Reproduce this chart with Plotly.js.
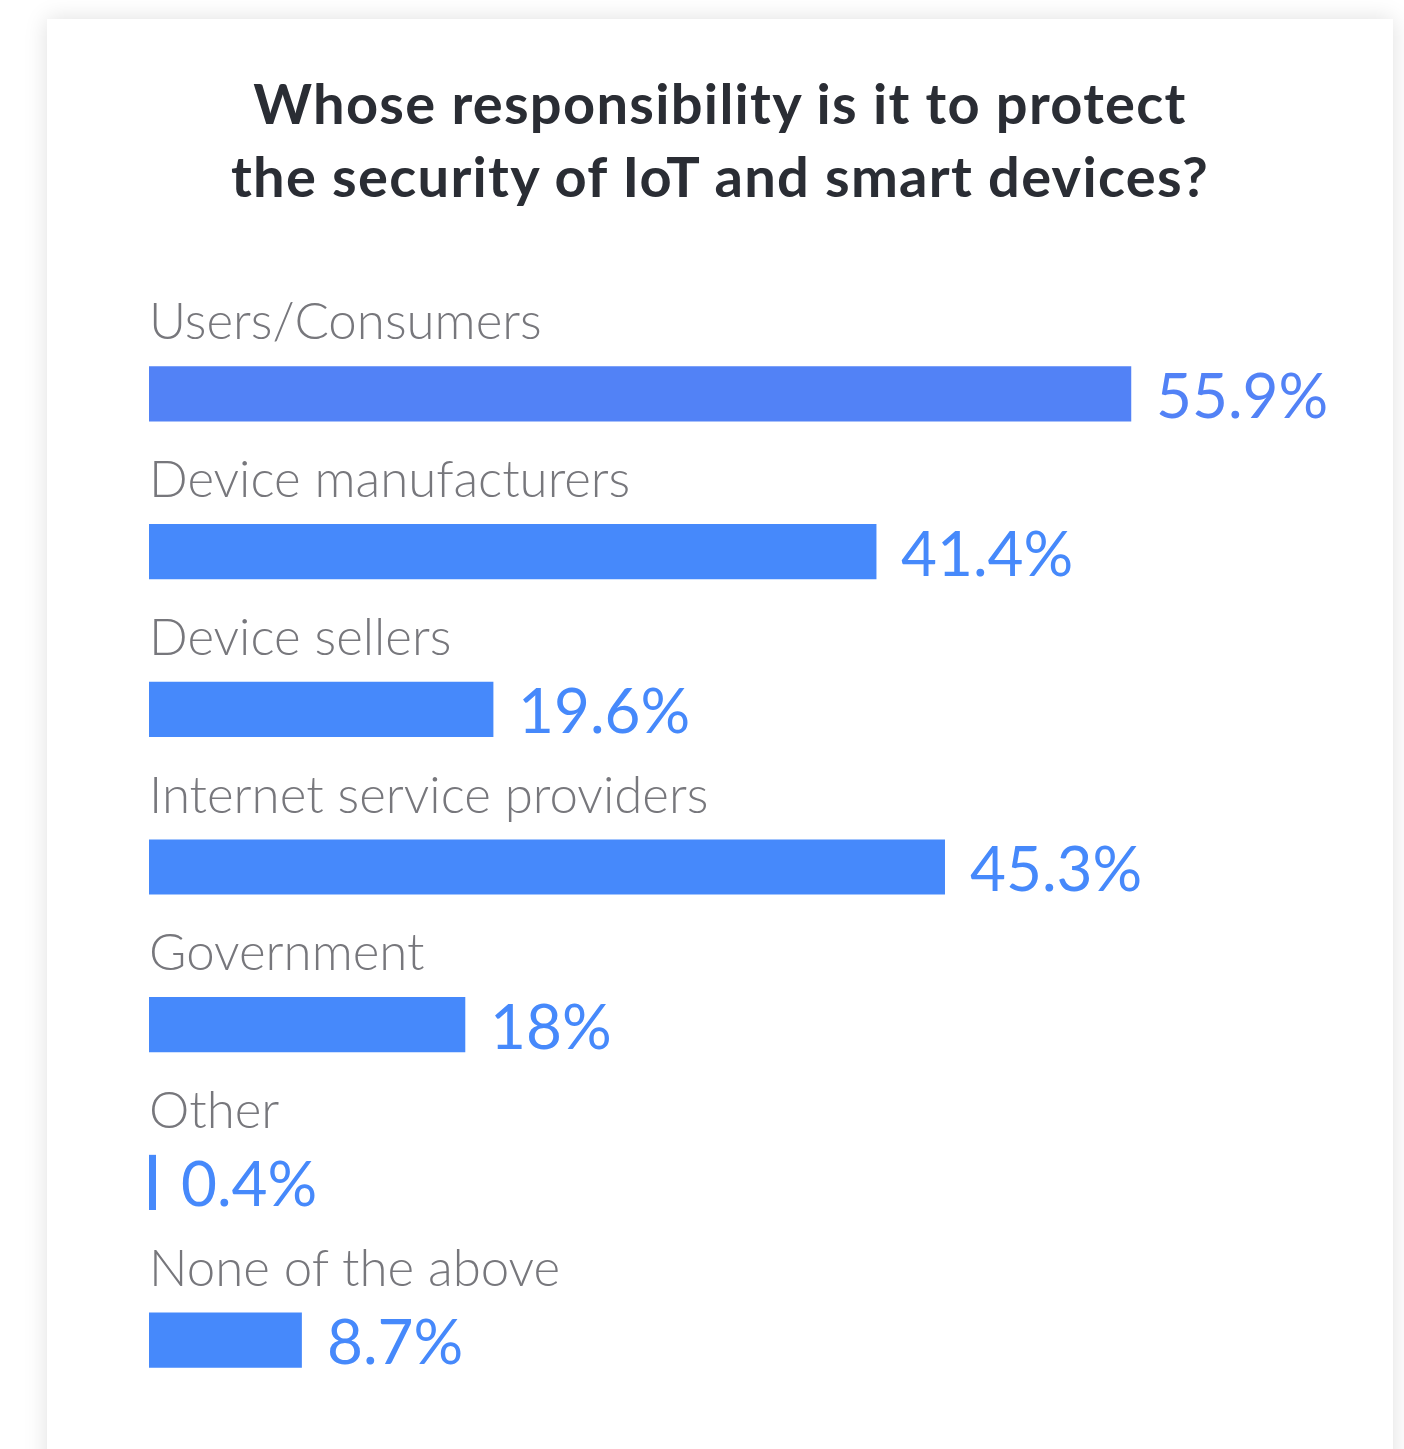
<!DOCTYPE html>
<html>
<head>
<meta charset="utf-8">
<script src="https://cdn.plot.ly/plotly-3.0.1.min.js"></script>
<style>
  html, body { margin: 0; padding: 0; background: #ffffff; width: 1404px; height: 1449px; overflow: hidden; }
  #card { position: absolute; left: 47px; top: 19px; width: 1346px; height: 1460px; background: #ffffff;
          box-shadow: 0 0 22px rgba(0,0,0,0.13); }
  #chart { position: absolute; left: 0; top: 0; width: 1404px; height: 1449px; }
  #chart .gtitle { letter-spacing: 1.3px; }
</style>
</head>
<body>
<div id="card"></div>
<div id="chart"></div>
<script>
const categories = [
  "Users/Consumers",
  "Device manufacturers",
  "Device sellers",
  "Internet service providers",
  "Government",
  "Other",
  "None of the above"
];
const values = [55.9, 41.4, 19.6, 45.3, 18, 0.4, 8.7];
const valueLabels = ["55.9%", "41.4%", "19.6%", "45.3%", "18%", "0.4%", "8.7%"];
const barColors = ["#5282f6", "#4689fb", "#4689fb", "#4689fb", "#4689fb", "#4689fb", "#4689fb"];
const titleText = "Whose responsibility is it to protect<br>the security of IoT and smart devices?";

const FONT = "Lato, 'Open Sans', sans-serif";

const trace = {
  type: "bar",
  orientation: "h",
  x: values,
  y: categories,
  marker: { color: barColors, line: { width: 0 } },
  width: 0.35,
  hoverinfo: "none"
};

const annotations = [];
categories.forEach((c, i) => {
  annotations.push({
    x: 0, y: c, xref: "x", yref: "y",
    text: c, showarrow: false,
    xanchor: "left", yanchor: "middle",
    xshift: -2, yshift: 74,
    font: { family: FONT, size: 51, color: "#77777c", weight: 300 }
  });
  annotations.push({
    x: values[i], y: c, xref: "x", yref: "y",
    text: valueLabels[i], showarrow: false,
    xanchor: "left", yanchor: "middle",
    xshift: 23, yshift: 0,
    font: { family: FONT, size: 62, color: barColors[i] }
  });
});

const layout = {
  width: 1404,
  height: 1449,
  paper_bgcolor: "rgba(0,0,0,0)",
  plot_bgcolor: "rgba(0,0,0,0)",
  margin: { l: 149, r: 25.3, t: 314.6, b: 29.6 },
  showlegend: false,
  title: {
    text: titleText,
    x: 720 / 1404, xanchor: "center",
    xref: "container",
    yref: "container", y: 1 - 124 / 1449, yanchor: "top",
    font: { family: FONT, size: 56, color: "#2a2d34", weight: "bold" }
  },
  xaxis: {
    range: [0, 70],
    visible: false,
    fixedrange: true
  },
  yaxis: {
    type: "category",
    range: [6.5, -0.5],
    visible: false,
    fixedrange: true
  },
  annotations: annotations
};

Plotly.newPlot("chart", [trace], layout, { displayModeBar: false, staticPlot: true });
</script>
</body>
</html>
